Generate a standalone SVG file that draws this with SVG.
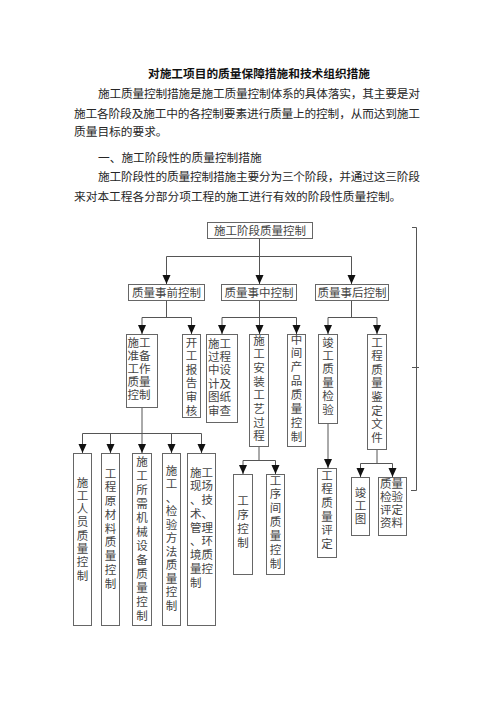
<svg xmlns="http://www.w3.org/2000/svg" width="496" height="702" viewBox="0 0 496 702">
<style>
.body{font-family:"Liberation Sans","Noto Sans CJK SC","Noto Sans CJK JP",sans-serif;font-size:11.7px;fill:#262626}
.title{font-family:"Liberation Sans","Noto Sans CJK SC","Noto Sans CJK JP",sans-serif;font-size:11.7px;font-weight:bold;fill:#111}
.box{fill:#fff;stroke:#666;stroke-width:1}
.t{font-family:"Liberation Sans","Noto Sans CJK SC","Noto Sans CJK JP",sans-serif;font-size:11.5px;fill:#444;text-anchor:middle}
.ts{font-family:"Liberation Sans","Noto Sans CJK SC","Noto Sans CJK JP",sans-serif;font-size:11.5px;fill:#444;text-anchor:start}
.ln{fill:none;stroke:#555;stroke-width:1}
.ar{fill:none;stroke:#555;stroke-width:1;marker-end:url(#ah)}
</style>
<defs>
<marker id="ah" markerUnits="userSpaceOnUse" markerWidth="9" markerHeight="9" refX="9" refY="4" orient="auto">
<path d="M0,0 L9,4 L0,8 z" fill="#111"/>
</marker>
</defs>
<rect width="496" height="702" fill="#fff"/>
<g id="text">
<text class="title" x="148" y="77.5" textLength="222" lengthAdjust="spacing">对施工项目的质量保障措施和技术组织措施</text>
<text class="body" x="98" y="97.5" textLength="322" lengthAdjust="spacing">施工质量控制措施是施工质量控制体系的具体落实，其主要是对</text>
<text class="body" x="74" y="117.5" textLength="346" lengthAdjust="spacing">施工各阶段及施工中的各控制要素进行质量上的控制，从而达到施工</text>
<text class="body" x="74" y="135.5">质量目标的要求。</text>
<text class="body" x="98" y="162">一、施工阶段性的质量控制措施</text>
<text class="body" x="98" y="180.5" textLength="322" lengthAdjust="spacing">施工阶段性的质量控制措施主要分为三个阶段，并通过这三阶段</text>
<text class="body" x="74" y="200.5">来对本工程各分部分项工程的施工进行有效的阶段性质量控制。</text>
</g>
<g id="connectors">
<path class="ln" d="M259.5,238 V256.5 M166.5,256.5 H351.5"/>
<path class="ar" d="M166.5,256.5 V284"/>
<path class="ar" d="M259.5,256.5 V284"/>
<path class="ar" d="M351.5,256.5 V284"/>
<path class="ln" d="M166.5,300 V317.5 M142,317.5 H191.5"/>
<path class="ar" d="M142,317.5 V334"/>
<path class="ar" d="M191.5,317.5 V334"/>
<path class="ln" d="M259.5,300 V317.5 M222,317.5 H296.5"/>
<path class="ar" d="M222,317.5 V334"/>
<path class="ar" d="M259.5,317.5 V334"/>
<path class="ar" d="M296.5,317.5 V334"/>
<path class="ln" d="M351.5,300 V317.5 M328,317.5 H377"/>
<path class="ar" d="M328,317.5 V334"/>
<path class="ar" d="M377,317.5 V334"/>
<path class="ln" d="M142,407 V433.5 M82.5,433.5 H201.5"/>
<path class="ar" d="M82.5,433.5 V453"/>
<path class="ar" d="M110.5,433.5 V453"/>
<path class="ar" d="M142,433.5 V453"/>
<path class="ar" d="M171.5,433.5 V453"/>
<path class="ar" d="M201.5,433.5 V453"/>
<path class="ln" d="M259,446 V460.5 M243,460.5 H275.5"/>
<path class="ar" d="M243,460.5 V474"/>
<path class="ar" d="M275.5,460.5 V474"/>
<path class="ar" d="M328,423 V468"/>
<path class="ln" d="M377,449 V463.5 M360.5,463.5 H392.5"/>
<path class="ar" d="M360.5,463.5 V477"/>
<path class="ar" d="M392.5,463.5 V477"/>
<path class="ln" d="M412,227.5 H416.5 V490.5 H411 M412,367.5 H419"/>
</g>
<g id="n-root"><rect class="box" x="207.5" y="222.5" width="105" height="16"/><text class="t" x="260" y="234.5">施工阶段质量控制</text></g>
<g id="n-pre"><rect class="box" x="128.5" y="284.5" width="76" height="16"/><text class="t" x="166.5" y="296.5">质量事前控制</text></g>
<g id="n-mid"><rect class="box" x="221.5" y="284.5" width="75" height="16"/><text class="t" x="259" y="296.5">质量事中控制</text></g>
<g id="n-post"><rect class="box" x="315.5" y="284.5" width="73" height="16"/><text class="t" x="352" y="296.5">质量事后控制</text></g>

<g id="n-a1"><rect class="box" x="126.5" y="334.5" width="31" height="73"/>
<text class="ts"><tspan x="127.5" y="346.5">施工</tspan><tspan x="127.5" y="359.5">准备</tspan><tspan x="127.5" y="372.5">工作</tspan><tspan x="127.5" y="385.5">质量</tspan><tspan x="127.5" y="398.5">控制</tspan></text></g>
<g id="n-a2"><rect class="box" x="182.5" y="334.5" width="18" height="83"/>
<text class="t"><tspan x="191.5" y="346.5">开</tspan><tspan x="191.5" y="360.1">工</tspan><tspan x="191.5" y="373.7">报</tspan><tspan x="191.5" y="387.3">告</tspan><tspan x="191.5" y="400.9">审</tspan><tspan x="191.5" y="414.5">核</tspan></text></g>
<g id="n-b1"><rect class="box" x="206.5" y="334.5" width="31" height="88"/>
<text class="ts"><tspan x="208" y="347.5">施工</tspan><tspan x="208" y="360.9">过程</tspan><tspan x="208" y="374.3">中设</tspan><tspan x="208" y="387.7">计及</tspan><tspan x="208" y="401.1">图纸</tspan><tspan x="208" y="414.5">审查</tspan></text></g>
<g id="n-b2"><rect class="box" x="249.5" y="334.5" width="19" height="112"/>
<text class="t"><tspan x="259" y="344.5">施</tspan><tspan x="259" y="358.2">工</tspan><tspan x="259" y="371.9">安</tspan><tspan x="259" y="385.6">装</tspan><tspan x="259" y="399.3">工</tspan><tspan x="259" y="413">艺</tspan><tspan x="259" y="426.7">过</tspan><tspan x="259" y="440.4">程</tspan></text></g>
<g id="n-b3"><rect class="box" x="287.5" y="334.5" width="18" height="112"/>
<text class="t"><tspan x="296.5" y="343.5">中</tspan><tspan x="296.5" y="357.4">间</tspan><tspan x="296.5" y="371.2">产</tspan><tspan x="296.5" y="385.1">品</tspan><tspan x="296.5" y="398.9">质</tspan><tspan x="296.5" y="412.8">量</tspan><tspan x="296.5" y="426.7">控</tspan><tspan x="296.5" y="440.5">制</tspan></text></g>
<g id="n-c1"><rect class="box" x="318.5" y="334.5" width="19" height="89"/>
<text class="t"><tspan x="328" y="346.5">竣</tspan><tspan x="328" y="359.9">工</tspan><tspan x="328" y="373.3">质</tspan><tspan x="328" y="386.7">量</tspan><tspan x="328" y="400.1">检</tspan><tspan x="328" y="413.5">验</tspan></text></g>
<g id="n-c2"><rect class="box" x="367.5" y="334.5" width="19" height="115"/>
<text class="t"><tspan x="377" y="346.5">工</tspan><tspan x="377" y="360.1">程</tspan><tspan x="377" y="373.7">质</tspan><tspan x="377" y="387.3">量</tspan><tspan x="377" y="400.9">鉴</tspan><tspan x="377" y="414.5">定</tspan><tspan x="377" y="428.1">文</tspan><tspan x="377" y="441.7">件</tspan></text></g>

<g id="n-d1"><rect class="box" x="73.5" y="453.5" width="18" height="172"/>
<text class="t"><tspan x="82.5" y="486.5">施</tspan><tspan x="82.5" y="499.8">工</tspan><tspan x="82.5" y="513.1">人</tspan><tspan x="82.5" y="526.4">员</tspan><tspan x="82.5" y="539.7">质</tspan><tspan x="82.5" y="553">量</tspan><tspan x="82.5" y="566.3">控</tspan><tspan x="82.5" y="579.6">制</tspan></text></g>
<g id="n-d2"><rect class="box" x="101.5" y="453.5" width="18" height="172"/>
<text class="t"><tspan x="110.5" y="477.5">工</tspan><tspan x="110.5" y="491.3">程</tspan><tspan x="110.5" y="505">原</tspan><tspan x="110.5" y="518.8">材</tspan><tspan x="110.5" y="532.5">料</tspan><tspan x="110.5" y="546.3">质</tspan><tspan x="110.5" y="560">量</tspan><tspan x="110.5" y="573.8">控</tspan><tspan x="110.5" y="587.5">制</tspan></text></g>
<g id="n-d3"><rect class="box" x="132.5" y="453.5" width="19" height="172"/>
<text class="t"><tspan x="142" y="466">施</tspan><tspan x="142" y="480">工</tspan><tspan x="142" y="494">所</tspan><tspan x="142" y="508">需</tspan><tspan x="142" y="522">机</tspan><tspan x="142" y="536">械</tspan><tspan x="142" y="550">设</tspan><tspan x="142" y="564">备</tspan><tspan x="142" y="578">质</tspan><tspan x="142" y="592">量</tspan><tspan x="142" y="606">控</tspan><tspan x="142" y="620">制</tspan></text></g>
<g id="n-d4"><rect class="box" x="162.5" y="453.5" width="18" height="172"/>
<text class="t"><tspan x="171.5" y="474.5">施</tspan><tspan x="171.5" y="488">工</tspan><tspan x="171.5" y="501.5">、</tspan><tspan x="171.5" y="515">检</tspan><tspan x="171.5" y="528.5">验</tspan><tspan x="171.5" y="542">方</tspan><tspan x="171.5" y="555.5">法</tspan><tspan x="171.5" y="569">质</tspan><tspan x="171.5" y="582.5">量</tspan><tspan x="171.5" y="596">控</tspan><tspan x="171.5" y="609.5">制</tspan></text></g>
<g id="n-d5"><rect class="box" x="187.5" y="453.5" width="28" height="172"/>
<text class="ts"><tspan x="190" y="476.5">施工</tspan><tspan x="190" y="490.3">现场</tspan><tspan x="190" y="504">、技</tspan><tspan x="190" y="517.8">术、</tspan><tspan x="190" y="531.5">管理</tspan><tspan x="190" y="545.3">、环</tspan><tspan x="190" y="559">境质</tspan><tspan x="190" y="572.8">量控</tspan><tspan x="190" y="586.5">制</tspan></text></g>

<g id="n-e1"><rect class="box" x="233.5" y="474.5" width="19" height="100"/>
<text class="t"><tspan x="243" y="504.5">工</tspan><tspan x="243" y="518.6">序</tspan><tspan x="243" y="532.7">控</tspan><tspan x="243" y="546.8">制</tspan></text></g>
<g id="n-e2"><rect class="box" x="266.5" y="474.5" width="18" height="100"/>
<text class="t"><tspan x="275.5" y="484.5">工</tspan><tspan x="275.5" y="498.4">序</tspan><tspan x="275.5" y="512.2">间</tspan><tspan x="275.5" y="526.1">质</tspan><tspan x="275.5" y="539.9">量</tspan><tspan x="275.5" y="553.8">控</tspan><tspan x="275.5" y="567.6">制</tspan></text></g>
<g id="n-f1"><rect class="box" x="317.5" y="468.5" width="19" height="89"/>
<text class="t"><tspan x="327" y="479.5">工</tspan><tspan x="327" y="493.2">程</tspan><tspan x="327" y="506.9">质</tspan><tspan x="327" y="520.6">量</tspan><tspan x="327" y="534.3">评</tspan><tspan x="327" y="548">定</tspan></text></g>
<g id="n-g1"><rect class="box" x="351.5" y="477.5" width="18" height="58"/>
<text class="t"><tspan x="360.5" y="496.5">竣</tspan><tspan x="360.5" y="509.5">工</tspan><tspan x="360.5" y="522.5">图</tspan></text></g>
<g id="n-g2"><rect class="box" x="378.5" y="477.5" width="28" height="58"/>
<text class="ts"><tspan x="380" y="487.5">质量</tspan><tspan x="380" y="500.8">检验</tspan><tspan x="380" y="514.1">评定</tspan><tspan x="380" y="527.4">资料</tspan></text></g>
</svg>
